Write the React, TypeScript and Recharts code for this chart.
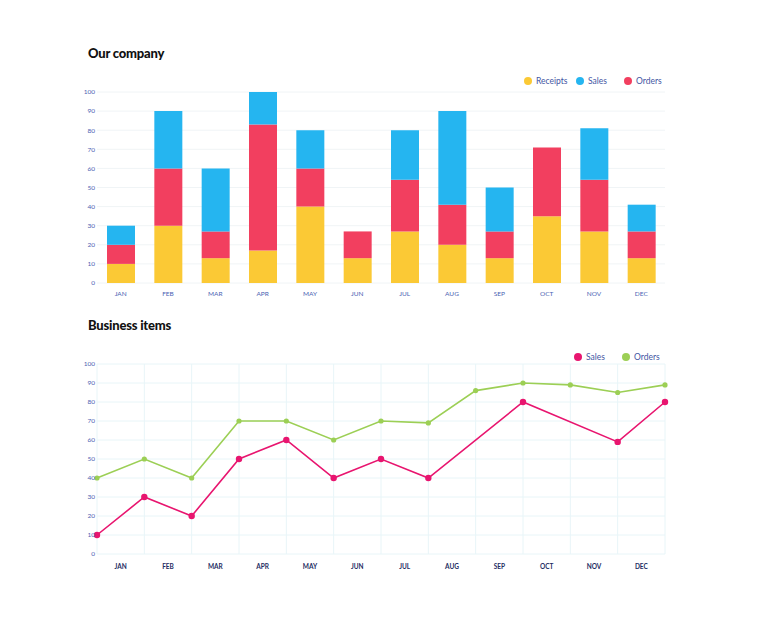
import React from "react";
import { BarChart, Bar, LineChart, Line, XAxis, YAxis, CartesianGrid } from "recharts";

const months = ["JAN", "FEB", "MAR", "APR", "MAY", "JUN", "JUL", "AUG", "SEP", "OCT", "NOV", "DEC"];
const receipts = [10, 30, 13, 17, 40, 13, 27, 20, 13, 35, 27, 13];
const orders = [10, 30, 14, 66, 20, 14, 27, 21, 14, 36, 27, 14];
const sales = [10, 30, 33, 17, 20, 0, 26, 49, 23, 0, 27, 14];

const lineSales: (number | null)[] = [10, 30, 20, 50, 60, 40, 50, 40, null, 80, null, 59, 80];
const lineOrders = [40, 50, 40, 70, 70, 60, 70, 69, 86, 90, 89, 85, 89];

const yTicks = [0, 10, 20, 30, 40, 50, 60, 70, 80, 90, 100];

const barColors = { receipts: "#fbc935", sales: "#25b5f0", orders: "#f23f5f" };
const lineColors = { sales: "#e8156f", orders: "#9ccf55" };

const barLegend = [
  { name: "Receipts", color: barColors.receipts },
  { name: "Sales", color: barColors.sales },
  { name: "Orders", color: barColors.orders },
];
const lineLegend = [
  { name: "Sales", color: lineColors.sales },
  { name: "Orders", color: lineColors.orders },
];

const barData = months.map((m, i) => ({ month: m, receipts: receipts[i], orders: orders[i], sales: sales[i] }));
const lineData = lineSales.map((s, i) => ({ idx: i, sales: s, orders: lineOrders[i] }));
const pointTicks = lineData.map((d) => d.idx);
const labelTicks = months.map((_, i) => i + 0.5);

const FONT = "Lato, 'Open Sans', sans-serif";
const axisBlue = "#4a63b3";

function LegendRow({ items, left, top, widths }: { items: { name: string; color: string }[]; left: number; top: number; widths: number[] }) {
  return (
    <div style={{ position: "absolute", left, top, display: "flex", alignItems: "center", fontFamily: FONT, fontSize: 8.5, color: "#3f55a3" }}>
      {items.map((it, i) => (
        <div key={it.name} style={{ display: "flex", alignItems: "center", width: widths[i] }}>
          <span style={{ width: 8, height: 8, borderRadius: 4, background: it.color, display: "inline-block", marginRight: 4 }} />
          <span>{it.name}</span>
        </div>
      ))}
    </div>
  );
}

export default function App() {
  return (
    <div style={{ position: "absolute", left: 0, top: 0, width: 782, height: 637, background: "#ffffff", fontFamily: FONT, overflow: "hidden" }}>
      <div style={{ position: "absolute", left: 88, top: 45, fontSize: 13, fontWeight: 900, letterSpacing: -0.2, color: "#111" }}>Our company</div>
      <LegendRow items={barLegend} left={524} top={76} widths={[52, 48, 48]} />

      <div style={{ position: "absolute", left: 0, top: 0 }}>
        <BarChart width={782} height={310} data={barData} margin={{ top: 92, right: 117, bottom: 7, left: 77 }} barSize={28}>
          <CartesianGrid vertical={false} stroke="#f0f4f6" />
          <XAxis dataKey="month" axisLine={false} tickLine={false} height={20} interval={0} tick={{ fontSize: 6.5, fill: axisBlue, fontFamily: FONT }} />
          <YAxis domain={[0, 100]} ticks={yTicks} interval={0} axisLine={false} tickLine={false} width={20} tickSize={0} tickMargin={2} tick={{ fontSize: 6.5, fill: axisBlue, fontFamily: FONT }} />
          <Bar dataKey="receipts" stackId="a" fill={barColors.receipts} isAnimationActive={false} />
          <Bar dataKey="orders" stackId="a" fill={barColors.orders} isAnimationActive={false} />
          <Bar dataKey="sales" stackId="a" fill={barColors.sales} isAnimationActive={false} />
        </BarChart>
      </div>

      <div style={{ position: "absolute", left: 88, top: 317, fontSize: 13, fontWeight: 900, letterSpacing: -0.2, color: "#111" }}>Business items</div>
      <LegendRow items={lineLegend} left={574} top={352} widths={[48, 48]} />

      <div style={{ position: "absolute", left: 0, top: 310 }}>
        <LineChart width={782} height={280} data={lineData} margin={{ top: 54, right: 117, bottom: 16, left: 77 }}>
          <CartesianGrid xAxisId="pts" stroke="#e8f5f8" />
          <XAxis xAxisId="pts" dataKey="idx" type="number" domain={[0, 12]} ticks={pointTicks} hide />
          <XAxis xAxisId="lbl" dataKey="idx" type="number" domain={[0, 12]} ticks={labelTicks} interval={0} axisLine={false} tickLine={false} height={20} tickMargin={4} tickFormatter={(v: number) => months[Math.floor(v)]} tick={{ fontSize: 6.5, fill: "#1e2d63", fontWeight: 700, fontFamily: FONT }} />
          <YAxis domain={[0, 100]} ticks={yTicks} interval={0} axisLine={false} tickLine={false} width={20} tickSize={0} tickMargin={2} tick={{ fontSize: 6.5, fill: axisBlue, fontFamily: FONT }} />
          <Line xAxisId="pts" dataKey="orders" stroke={lineColors.orders} strokeWidth={1.6} dot={{ r: 2.6, fill: lineColors.orders, stroke: lineColors.orders, strokeWidth: 0 }} isAnimationActive={false} />
          <Line xAxisId="pts" dataKey="sales" stroke={lineColors.sales} strokeWidth={1.6} connectNulls dot={{ r: 3.2, fill: lineColors.sales, stroke: lineColors.sales, strokeWidth: 0 }} isAnimationActive={false} />
        </LineChart>
      </div>
    </div>
  );
}
